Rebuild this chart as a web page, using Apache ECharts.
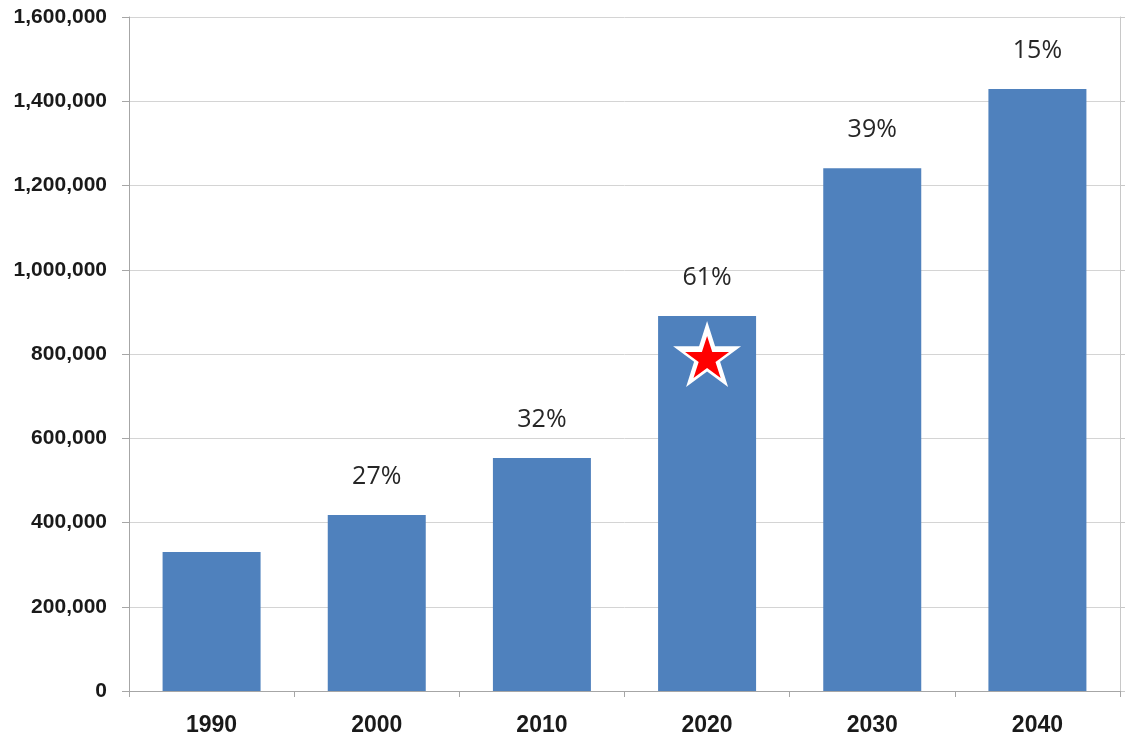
<!DOCTYPE html>
<html>
<head>
<meta charset="utf-8">
<style>
  html, body { margin: 0; padding: 0; background: #fff; }
  #chart { width: 1126px; height: 745px; }
</style>
<script src="https://cdn.jsdelivr.net/npm/echarts@6/dist/echarts.min.js"></script>
</head>
<body>
<div id="chart"></div>
<script>
var years = ['1990', '2000', '2010', '2020', '2030', '2040'];
var values = [330000, 418000, 553000, 890000, 1241000, 1429000];
var growth = ['', '27%', '32%', '61%', '39%', '15%'];
var starYear = '2020';
var starValue = 800000;

var starPath = 'path://M50,0 L61.2,34.5 L97.6,34.5 L68.2,55.9 L79.4,90.5 L50,69.1 L20.6,90.5 L31.8,55.9 L2.4,34.5 L38.8,34.5 Z';

var myChart = echarts.init(document.getElementById('chart'));

var option = {
    animation: false,
    grid: { left: 129, right: 6, top: 17, bottom: 54 },
    xAxis: {
        type: 'category',
        data: years,
        axisLine: { lineStyle: { color: '#a6a6a6' } },
        axisTick: { show: true, length: 6, lineStyle: { color: '#a6a6a6' } },
        axisLabel: {
            margin: 23,
            fontSize: 23,
            fontWeight: 'bold',
            color: '#1a1a1a',
            fontFamily: 'Liberation Sans'
        }
    },
    yAxis: [{
        type: 'value',
        min: 0,
        max: 1600000,
        interval: 200000,
        axisLine: { show: true, lineStyle: { color: '#a6a6a6' } },
        axisTick: { show: true, length: 7, lineStyle: { color: '#a6a6a6' } },
        splitLine: { lineStyle: { color: '#d4d4d4' } },
        axisLabel: {
            margin: 22,
            fontSize: 21,
            fontWeight: 'bold',
            color: '#1a1a1a',
            fontFamily: 'Liberation Sans',
            formatter: function (v) { return v.toLocaleString('en-US'); }
        }
    }, {
        type: 'value',
        position: 'right',
        min: 0,
        max: 1600000,
        interval: 200000,
        axisLine: { show: true, lineStyle: { color: '#c8c8c8' } },
        axisTick: { show: true, length: 5, lineStyle: { color: '#c8c8c8' } },
        splitLine: { show: false },
        axisLabel: { show: false }
    }],
    series: [{
        type: 'bar',
        data: values,
        barWidth: 98,
        itemStyle: { color: '#4f81bd' },
        label: {
            show: true,
            position: 'top',
            distance: 26,
            fontSize: 25,
            color: '#262626',
            fontFamily: 'Open Sans',
            formatter: function (p) { return growth[p.dataIndex]; }
        }
    }, {
        // white outline of the star
        type: 'scatter',
        data: [[starYear, starValue]],
        symbol: starPath,
        symbolSize: [68, 66],
        itemStyle: { color: '#ffffff', opacity: 1 },
        z: 5
    }, {
        type: 'scatter',
        data: [[starYear, starValue]],
        symbol: starPath,
        symbolSize: [44, 42],
        symbolOffset: [0, 3],
        itemStyle: { color: '#ff0000', opacity: 1 },
        z: 6
    }]
};

myChart.setOption(option);
</script>
</body>
</html>
